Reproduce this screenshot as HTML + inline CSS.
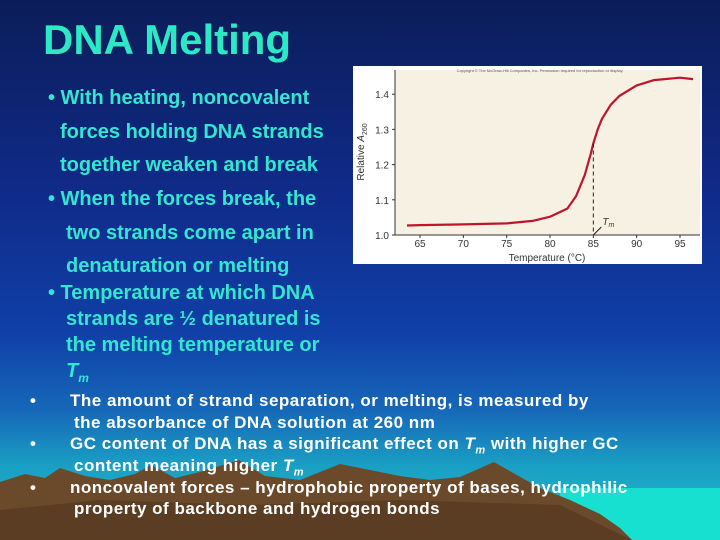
<!DOCTYPE html>
<html><head><meta charset="utf-8"><style>
html,body{margin:0;padding:0}
body{width:720px;height:540px;position:relative;overflow:hidden;font-family:"Liberation Sans",sans-serif;
background:linear-gradient(to bottom,#0b1d58 0%,#102a88 35%,#1040a8 62%,#1668b8 76%,#1a9ec4 86%,#20c0c8 100%);}
.t{position:absolute;white-space:nowrap;font-weight:bold}
.c{color:#33e6d0;font-size:20px}
.w{color:#fff;font-size:17px;letter-spacing:0.5px}
</style></head><body>
<svg style="position:absolute;left:0;top:0" width="720" height="540">
<rect x="560" y="488" width="160" height="52" fill="#18e0d0"/>
<polygon fill="#6b4a2c" points="0,482 25,474 45,478 60,468 85,476 110,480 135,474 151,465 175,478 200,472 239,460 265,476 300,480 340,464 370,470 400,476 430,480 460,477 494,462 515,474 540,488 570,500 600,514 620,528 632,540 0,540"/>
<polygon fill="#4a3018" opacity="0.5" points="0,510 100,500 250,505 400,500 560,505 632,540 0,540"/>
</svg>
<div class="t" style="left:43px;top:16px;font-size:42px;color:#2de8c4">DNA Melting</div>
<div class="t c" style="left:48px;top:87px">• With heating, noncovalent</div>
<div class="t c" style="left:60px;top:121px">forces holding DNA strands</div>
<div class="t c" style="left:60px;top:154px">together weaken and break</div>
<div class="t c" style="left:48px;top:188px">• When the forces break, the</div>
<div class="t c" style="left:66px;top:222px">two strands come apart in</div>
<div class="t c" style="left:66px;top:255px">denaturation or melting</div>
<div class="t c" style="left:48px;top:282px">• Temperature at which DNA</div>
<div class="t c" style="left:66px;top:308px">strands are ½ denatured is</div>
<div class="t c" style="left:66px;top:334px">the melting temperature or</div>
<div class="t c" style="left:66px;top:360px"><i>T<sub style="font-size:12px">m</sub></i></div>
<div class="t w" style="left:30px;top:391px">•</div>
<div class="t w" style="left:70px;top:391px">The amount of strand separation, or melting, is measured by</div>
<div class="t w" style="left:74px;top:413px">the absorbance of DNA solution at 260 nm</div>
<div class="t w" style="left:30px;top:434px">•</div>
<div class="t w" style="left:70px;top:434px">GC content of DNA has a significant effect on <i>T<sub style="font-size:11px">m</sub></i> with higher GC</div>
<div class="t w" style="left:74px;top:456px">content meaning higher <i>T<sub style="font-size:11px">m</sub></i></div>
<div class="t w" style="left:30px;top:478px">•</div>
<div class="t w" style="left:70px;top:478px">noncovalent forces – hydrophobic property of bases, hydrophilic</div>
<div class="t w" style="left:74px;top:499px">property of backbone and hydrogen bonds</div>

<svg id="chart" style="position:absolute;left:0;top:0" width="720" height="540"></svg>
<script>
const temps=[63.5,65,70,75,78,80,82,83,84,84.7,85,85.5,86,87,88,90,92,95,96.5];
const absorb=[1.027,1.028,1.03,1.033,1.04,1.052,1.075,1.11,1.17,1.23,1.26,1.30,1.33,1.37,1.395,1.425,1.44,1.447,1.443];
const xTicks=[65,70,75,80,85,90,95];
const yTicks=[1.0,1.1,1.2,1.3,1.4];
const tm=85;
const NS="http://www.w3.org/2000/svg";
const svg=document.getElementById('chart');
const X=t=>420+(t-65)*(260/30);
const Y=v=>235-(v-1.0)*352;
function mk(tag,a,p){const e=document.createElementNS(NS,tag);for(const k in a)e.setAttribute(k,a[k]);(p||svg).appendChild(e);return e;}
const bg=mk('rect',{x:353,y:66,width:349,height:198,fill:'#fff'});


const pl=mk('rect',{x:395,y:70,width:305,height:165,fill:'#f6f1e2'});


const cp=mk('text',{x:540,y:72,'font-size':4,'text-anchor':'middle',fill:'#555'});cp.textContent='Copyright © The McGraw-Hill Companies, Inc. Permission required for reproduction or display.';


const ax=mk('path',{d:'M395,70 V235 H700',stroke:'#333',fill:'none','stroke-width':1});


xTicks.forEach(t=>{mk('line',{x1:X(t),x2:X(t),y1:235,y2:238,stroke:'#333'});
const l=mk('text',{x:X(t),y:247,'font-size':10,'text-anchor':'middle',fill:'#333','font-family':'Liberation Sans'});l.textContent=t;

});
yTicks.forEach(v=>{mk('line',{x1:392,x2:395,y1:Y(v),y2:Y(v),stroke:'#333'});
const l=mk('text',{x:389,y:Y(v)+4,'font-size':10,'text-anchor':'end',fill:'#333','font-family':'Liberation Sans'});l.textContent=v.toFixed(1);

});
const xt=mk('text',{x:547,y:261,'font-size':10,'text-anchor':'middle',fill:'#333','font-family':'Liberation Sans'});xt.textContent='Temperature (°C)';


const yt=mk('text',{x:0,y:0,'font-size':10,'text-anchor':'middle',fill:'#333','font-family':'Liberation Sans',transform:'translate(364,152) rotate(-90)'});yt.innerHTML='Relative <tspan font-style="italic">A</tspan><tspan font-size="7" dy="3">260</tspan>';


let d='';temps.forEach((t,i)=>{d+=(i?'L':'M')+X(t).toFixed(1)+','+Y(absorb[i]).toFixed(1);});
const ln=mk('path',{d:d,stroke:'#c0142c',fill:'none','stroke-width':2.2,'stroke-linejoin':'round'});


const tmv=absorb[temps.indexOf(tm)];
const dl=mk('line',{x1:X(tm),x2:X(tm),y1:Y(tmv),y2:235,stroke:'#222','stroke-dasharray':'4,3'});


mk('line',{x1:X(tm),y1:235,x2:X(tm)+8,y2:227,stroke:'#222'});
const tl=mk('text',{x:X(tm)+9,y:225,'font-size':10,fill:'#333','font-style':'italic','font-family':'Liberation Sans'});tl.innerHTML='T<tspan font-size="7" dy="2">m</tspan>';


</script>
</body></html>
